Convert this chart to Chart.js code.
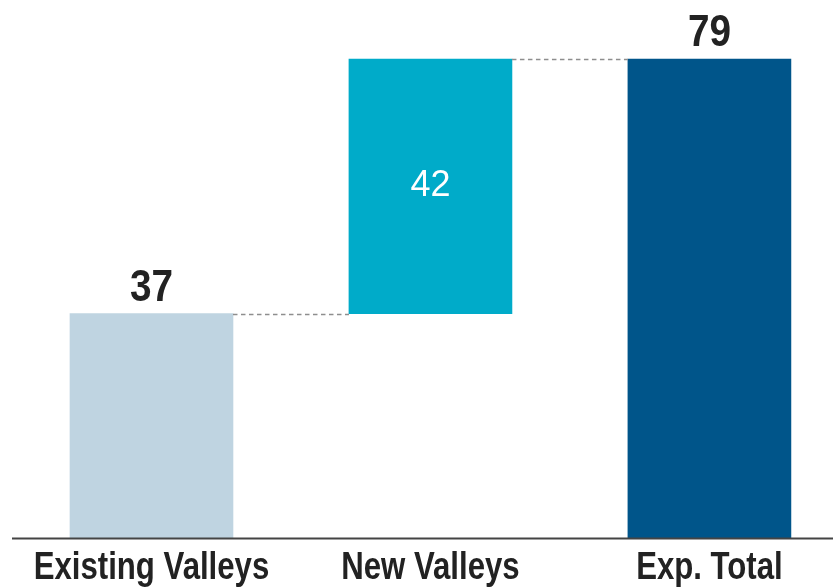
<!DOCTYPE html>
<html>
<head>
<meta charset="utf-8">
<script src="https://cdn.jsdelivr.net/npm/chart.js@4/dist/chart.umd.min.js"></script>
<style>
  html, body { margin: 0; padding: 0; background: #fff; }
  #wrap { width: 833px; height: 588px; position: relative; }
</style>
</head>
<body>
<div id="wrap"><canvas id="chart"></canvas></div>
<script>
// waterfall data
var categories = ["Existing Valleys", "New Valleys", "Exp. Total"];
var barStart = [0, 37, 0];
var barEnd = [37, 79, 79];
var barLabels = [37, 42, 79];
var barColors = ["#bfd4e1", "#00abc9", "#00558a"];

var NARROW = 0.82;

function narrowText(ctx, text, x, y, sx) {
    ctx.save();
    ctx.translate(x, y);
    ctx.scale(sx, 1);
    ctx.fillText(text, 0, 0);
    ctx.restore();
}

var waterfallDecor = {
    id: "waterfallDecor",
    afterDatasetsDraw: (chart) => {
        var ctx = chart.ctx;
        var area = chart.chartArea;
        var xs = chart.scales.x;
        var ys = chart.scales.y;
        var bars = chart.getDatasetMeta(0).data;

        // connectors between bars
        ctx.save();
        ctx.strokeStyle = "#8e8e8e";
        ctx.lineWidth = 1.3;
        ctx.setLineDash([4.5, 3.5]);
        for (var i = 0; i < bars.length - 1; i++) {
            var y = Math.round(ys.getPixelForValue(barEnd[i])) + 0.5;
            ctx.beginPath();
            ctx.moveTo(bars[i].x + bars[i].width / 2, y);
            ctx.lineTo(bars[i + 1].x - bars[i + 1].width / 2, y);
            ctx.stroke();
        }
        ctx.restore();

        // axis line
        ctx.save();
        ctx.strokeStyle = "#444";
        ctx.lineWidth = 2;
        ctx.beginPath();
        ctx.moveTo(area.left, area.bottom + 0.5);
        ctx.lineTo(area.right, area.bottom + 0.5);
        ctx.stroke();
        ctx.restore();

        // value labels
        ctx.save();
        ctx.textAlign = "center";
        ctx.textBaseline = "alphabetic";
        bars.forEach((bar, i) => {
            if (barStart[i] === 0) {
                ctx.fillStyle = "#222";
                ctx.font = "bold 45px 'Liberation Sans', Arial, sans-serif";
                narrowText(ctx, String(barLabels[i]), bar.x, bar.y - 13, 0.86);
            } else {
                ctx.fillStyle = "#fff";
                ctx.font = "36px 'Liberation Sans', Arial, sans-serif";
                ctx.textBaseline = "middle";
                ctx.fillText(String(barLabels[i]), bar.x, (bar.y + bar.base) / 2);
                ctx.textBaseline = "alphabetic";
            }
        });

        // category labels
        ctx.fillStyle = "#222";
        ctx.font = "bold 38px 'Liberation Sans', Arial, sans-serif";
        categories.forEach((c, i) => {
            narrowText(ctx, c, xs.getPixelForValue(i), area.bottom + 41, NARROW);
        });
        ctx.restore();
    }
};

var config = {
    type: "bar",
    data: {
        datasets: [{
            data: categories.map((c, i) => ({ x: i, y: [barStart[i], barEnd[i]] })),
            backgroundColor: barColors,
            borderWidth: 0,
            barThickness: 163
        }]
    },
    options: {
        animation: { duration: 0 },
        responsive: true,
        maintainAspectRatio: false,
        layout: {
            padding: { left: 12, right: 0, top: 4.5, bottom: 50 }
        },
        plugins: {
            legend: { display: false },
            tooltip: { enabled: false }
        },
        scales: {
            x: {
                type: "linear",
                offset: false,
                min: -0.5,
                max: 2.443,
                display: false
            },
            y: {
                min: 0,
                max: 88,
                display: false
            }
        }
    },
    plugins: [waterfallDecor]
};

new Chart(document.getElementById("chart"), config);
</script>
</body>
</html>
